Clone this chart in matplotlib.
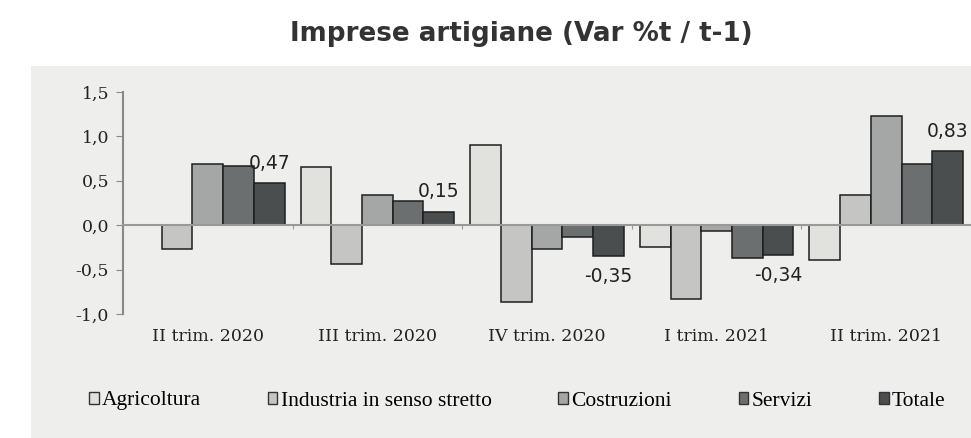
import numpy as np
import matplotlib.pyplot as plt
from matplotlib.patches import Patch, Rectangle
from matplotlib.ticker import FuncFormatter

# dati
trimestri = ['II trim. 2020', 'III trim. 2020', 'IV trim. 2020', 'I trim. 2021', 'II trim. 2021']
serie = ['Agricoltura', 'Industria in senso stretto', 'Costruzioni', 'Servizi', 'Totale']
agricoltura = [0.00, 0.65, 0.90, -0.25, -0.39]
industria = [-0.27, -0.44, -0.87, -0.83, 0.34]
costruzioni = [0.69, 0.34, -0.27, -0.06, 1.23]
servizi = [0.67, 0.27, -0.13, -0.37, 0.69]
totale = [0.47, 0.15, -0.35, -0.34, 0.83]
etichette_totale = ['0,47', '0,15', '-0,35', '-0,34', '0,83']

valori = [agricoltura, industria, costruzioni, servizi, totale]
colori = ['#e1e2de', '#c5c6c3', '#a5a7a6', '#6c6f6f', '#4b4e4f']

W, H = 971, 438
fig = plt.figure(figsize=(W / 100, H / 100), dpi=100)

# sfondo grigio del riquadro
fig.patches.append(Rectangle((31 / W, 0), 1 - 31 / W, (H - 66) / H,
                             transform=fig.transFigure, facecolor='#eeeeec',
                             edgecolor='none', zorder=-10))

fig.text(521 / W, 1 - 34 / H, 'Imprese artigiane (Var %t / t-1)', ha='center', va='center',
         fontsize=18.8, fontweight='bold', family='DejaVu Sans', color='#333333')

ax = fig.add_axes([123 / W, (H - 314) / H, 1 - 123 / W, 222 / H])
ax.set_facecolor('none')

x = np.arange(len(trimestri))
larg = 0.181
for j, (nome, vals, col) in enumerate(zip(serie, valori, colori)):
    ax.bar(x + (j - 2) * larg, vals, larg, color=col, edgecolor='#1e1e1e',
           linewidth=1.1, label=nome, zorder=3)

for i, (v, t) in enumerate(zip(totale, etichette_totale)):
    off = 14.5 if v > 0 else -14.5
    ax.annotate(t, (x[i] + 2 * larg, v), xytext=(0, off), textcoords='offset points',
                ha='center', va='center', fontsize=13.5, family='DejaVu Sans',
                color='#222222', zorder=5)

ax.set_ylim(-1.0, 1.5)
ax.set_xlim(-0.5, -0.5 + (W - 123) / 171)
ax.set_yticks(np.arange(-1.0, 1.51, 0.5))
ax.yaxis.set_major_formatter(FuncFormatter(lambda v, p: ('%.1f' % v).replace('.', ',')))
ax.tick_params(axis='y', length=5, color='#888888', labelsize=12.5, pad=5)
for lab in ax.get_yticklabels():
    lab.set_family('DejaVu Serif')
    lab.set_color('#222222')

for s in ['top', 'right']:
    ax.spines[s].set_visible(False)
ax.spines['left'].set_color('#888888')
ax.spines['left'].set_linewidth(1.5)
ax.spines['bottom'].set_position(('data', 0))
ax.spines['bottom'].set_color('#999999')
ax.spines['bottom'].set_linewidth(1.5)
ax.spines['bottom'].set_zorder(4)
ax.set_xticks(np.arange(len(trimestri)) + 0.5)
ax.set_xticklabels([])
ax.tick_params(axis='x', length=3, color='#999999', direction='out')

for i, t in enumerate(trimestri):
    ax.text(x[i], -1.0 - 14 / 89, t, ha='center', va='top', fontsize=12.5,
            family='DejaVu Serif', color='#222222')

maniglie = [Patch(facecolor=c, edgecolor='#333333', linewidth=1.0) for c in colori]
fig.legend(maniglie, serie, loc='center left', bbox_to_anchor=(89 / W, 1 - 401 / H),
           ncol=5, frameon=False, handlelength=0.45, handleheight=0.5,
           handletextpad=0.15, columnspacing=3.1, borderpad=0, borderaxespad=0,
           prop={'family': 'Liberation Serif', 'size': 15.5})

fig.savefig('out.png', dpi=100)
